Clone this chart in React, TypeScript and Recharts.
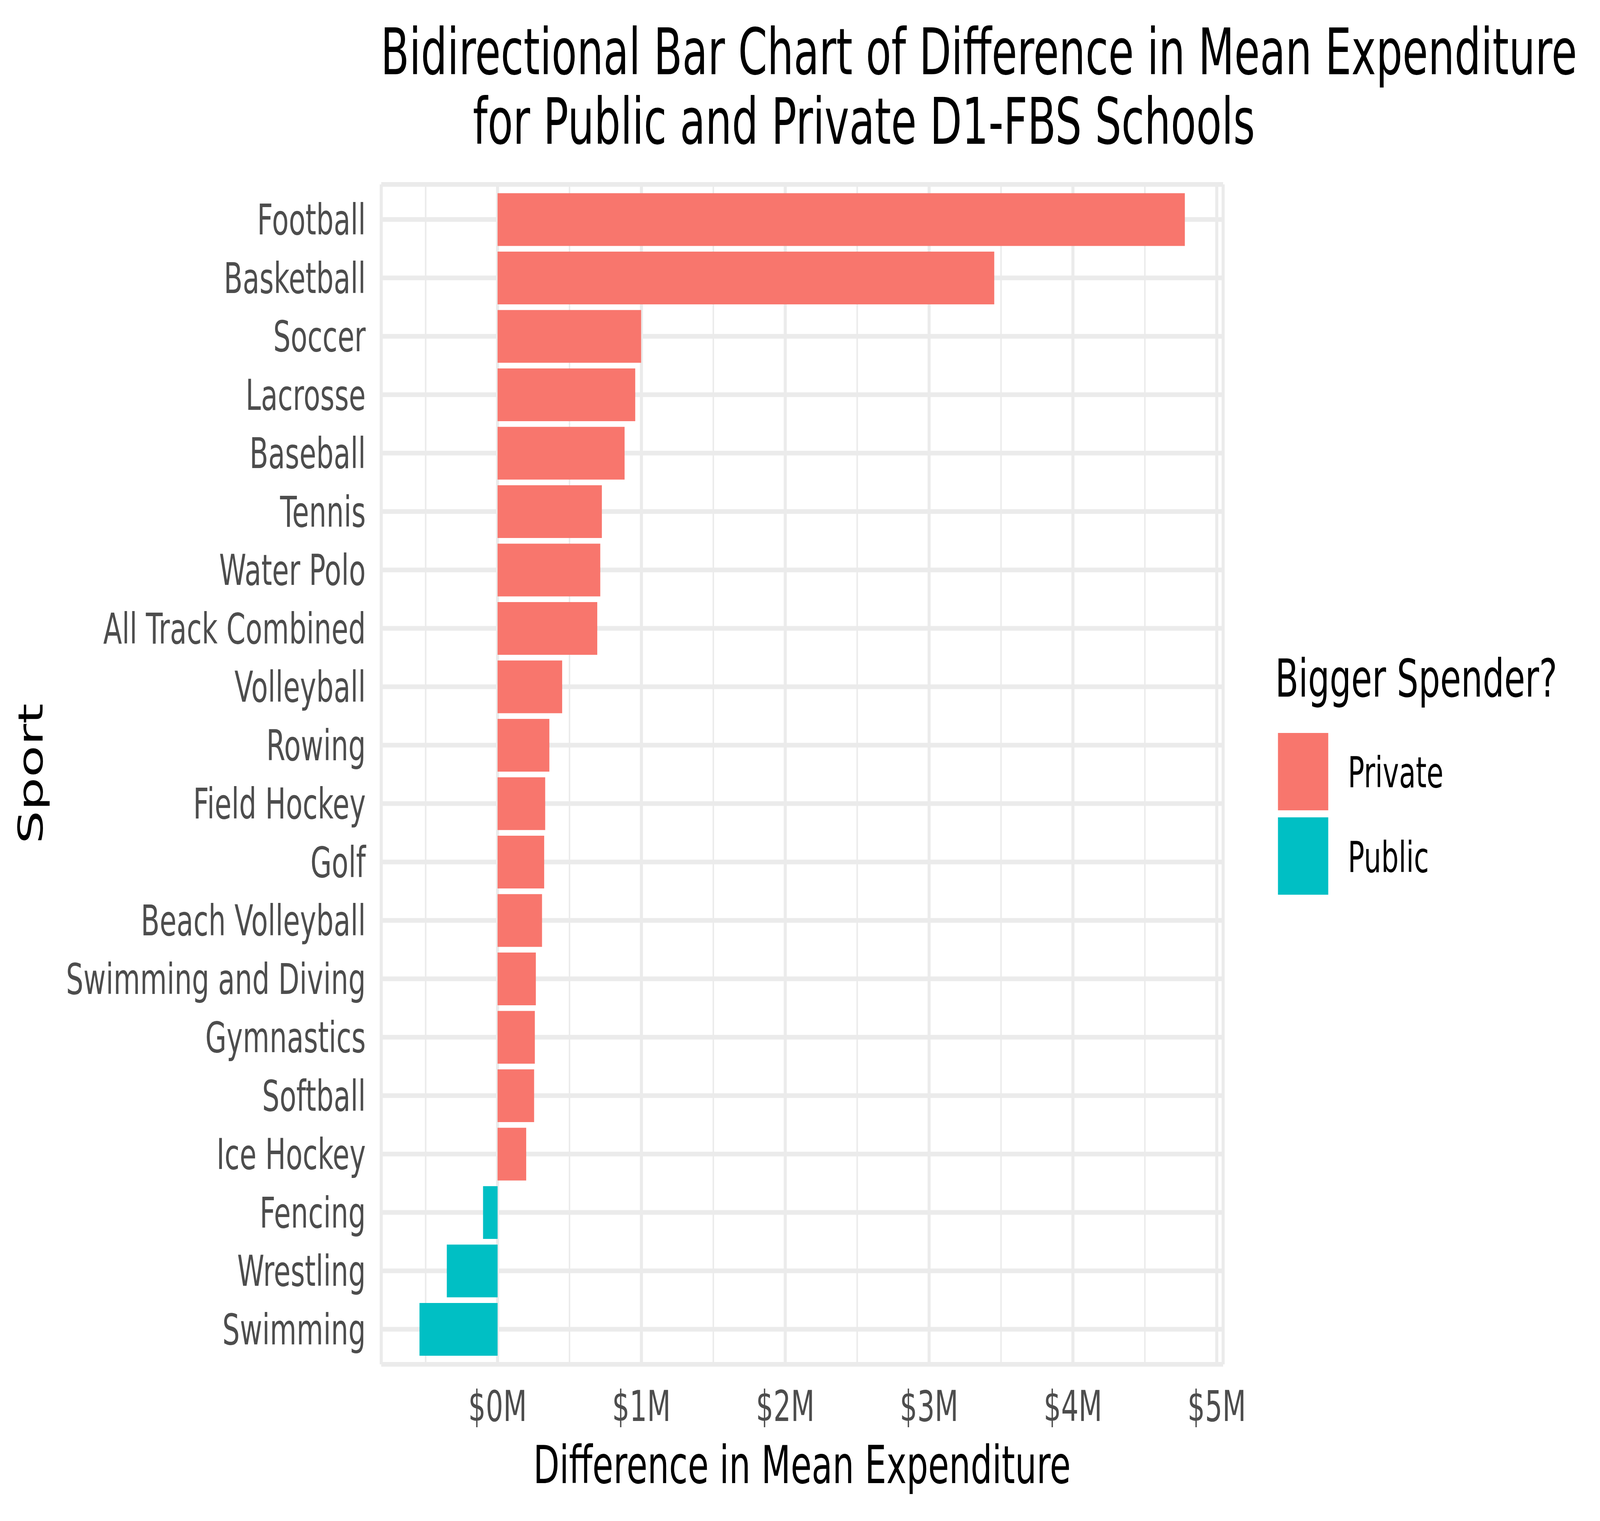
import React from 'react';
import { BarChart, Bar, XAxis, YAxis, CartesianGrid, Cell } from 'recharts';

const sports = [
  'Football', 'Basketball', 'Soccer', 'Lacrosse', 'Baseball', 'Tennis', 'Water Polo',
  'All Track Combined', 'Volleyball', 'Rowing', 'Field Hockey', 'Golf', 'Beach Volleyball',
  'Swimming and Diving', 'Gymnastics', 'Softball', 'Ice Hockey', 'Fencing', 'Wrestling', 'Swimming',
];
const differences = [
  4778000, 3453000, 998000, 957000, 883000, 725000, 714000,
  693000, 449000, 360000, 331000, 324000, 309000,
  266000, 259000, 254000, 199000, -101000, -353000, -543000,
];
const spenderLabels = ['Private', 'Public'];
const spenderColors = ['#F8766D', '#00BFC4'];
const majorTicks = [0, 1000000, 2000000, 3000000, 4000000, 5000000];
const minorTicks = [-500000, 500000, 1500000, 2500000, 3500000, 4500000];
const titleLines = [
  'Bidirectional Bar Chart of Difference in Mean Expenditure',
  'for Public and Private D1-FBS Schools',
];
const xTitle = 'Difference in Mean Expenditure';
const yTitle = 'Sport';
const legendTitle = 'Bigger Spender?';

const data = sports.map((sport, i) => ({
  sport,
  value: differences[i],
  spender: differences[i] >= 0 ? spenderLabels[0] : spenderLabels[1],
}));

const minV = Math.min(...differences);
const maxV = Math.max(...differences);
const pad = (maxV - minV) * 0.05;
const domain: [number, number] = [minV - pad, maxV + pad];

const fmt = (v: number) => `$${v / 1000000}M`;
const FONT = 'DejaVu Sans';
const W = 6300;
const H = 3893;

export default function App() {
  const vw = typeof window !== 'undefined' && window.innerWidth ? window.innerWidth : W;
  const vh = typeof window !== 'undefined' && window.innerHeight ? window.innerHeight : H;
  const sx = Math.min(1, vw / W);
  const sy = Math.min(1, vh / H);
  return (
    <div style={{ position: 'absolute', left: 0, top: 0, width: W * sx, height: H * sy, overflow: 'hidden', background: '#fff' }}>
      <div style={{ position: 'relative', width: W, height: H, transform: `scale(${sx}, ${sy})`, transformOrigin: '0 0' }}>
        <BarChart
          width={W}
          height={H}
          data={data}
          layout="vertical"
          margin={{ top: 472, right: 1484, bottom: 0, left: 0 }}
          barCategoryGap="5%"
        >
          <XAxis
            xAxisId="minor"
            type="number"
            domain={domain}
            ticks={minorTicks}
            allowDataOverflow
            hide
          />
          <CartesianGrid xAxisId="minor" horizontal={false} stroke="#EBEBEB" strokeWidth={6} />
          <CartesianGrid stroke="#EBEBEB" strokeWidth={12} />
          <XAxis
            type="number"
            domain={domain}
            ticks={majorTicks}
            allowDataOverflow
            interval={0}
            tickFormatter={fmt}
            height={401}
            tickLine={false}
            axisLine={false}
            tickMargin={62}
            tick={{ fontFamily: FONT, fontSize: 108, fill: '#4D4D4D' }}
          />
          <YAxis
            type="category"
            dataKey="sport"
            width={1501}
            interval={0}
            tickLine={false}
            axisLine={false}
            tickMargin={55}
            padding={{ top: 15, bottom: 15 }}
            tick={{ fontFamily: FONT, fontSize: 108, fill: '#4D4D4D' }}
          />
          <Bar dataKey="value" isAnimationActive={false}>
            {data.map((d, i) => (
              <Cell key={i} fill={spenderColors[spenderLabels.indexOf(d.spender)]} />
            ))}
          </Bar>
        </BarChart>
        <svg
          width={W}
          height={H}
          style={{ position: 'absolute', left: 0, top: 0, pointerEvents: 'none' }}
          fontFamily={FONT}
        >
          <text x={1499} y={190} fontSize={164} fill="#000">{titleLines[0]}</text>
          <text x={1862} y={368} fontSize={164} fill="#000">{titleLines[1]}</text>
          <text x={3158} y={3796} fontSize={134} fill="#000" textAnchor="middle">{xTitle}</text>
          <text transform="translate(168,1980) rotate(-90)" fontSize={134} fill="#000" textAnchor="middle">{yTitle}</text>
          <text x={5021} y={1783} fontSize={134} fill="#000">{legendTitle}</text>
          {spenderLabels.map((lab, i) => (
            <g key={lab}>
              <rect x={5032} y={1876 + i * 216} width={198} height={198} fill={spenderColors[i]} />
              <text x={5307} y={2015 + i * 217} fontSize={108} fill="#000">{lab}</text>
            </g>
          ))}
        </svg>
      </div>
    </div>
  );
}
